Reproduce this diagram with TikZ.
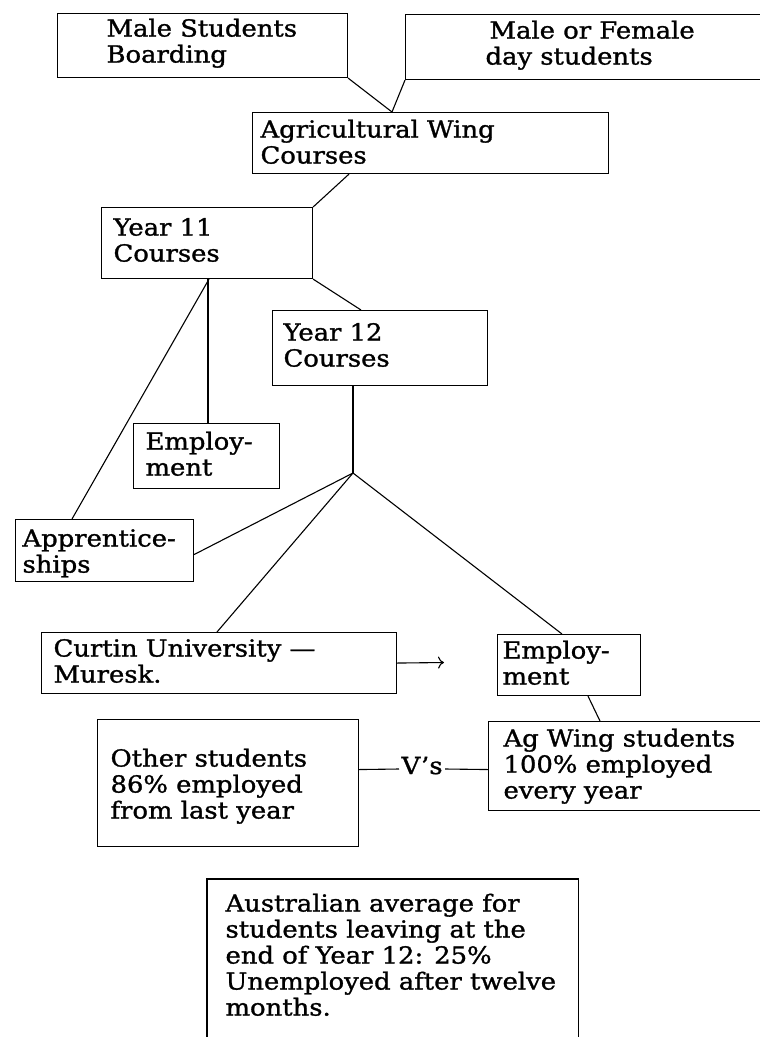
\documentclass[tikz,border=0pt]{standalone}
\usepackage{fontspec}
\setmainfont{DejaVu Serif}[FakeStretch=1.1, FakeBold=1.2]
\usetikzlibrary{arrows.meta}
\begin{document}
\begin{tikzpicture}[x=1pt,y=-1pt,
  line width=1.1pt,
  box/.style={draw, rectangle, inner sep=0pt, anchor=north west},
  txt/.style={anchor=north west, inner sep=0pt, align=left, font=\fontsize{23.5}{26}\selectfont},
  conn/.style={line width=1.1pt},
]
\useasboundingbox (0,0) rectangle (760,1037);

% boxes
\node[box, minimum width=290pt, minimum height=64pt] (msb) at (57,13) {};
\node[box, minimum width=370pt, minimum height=65pt] (mfd) at (405,14) {};
\node[box, minimum width=356pt, minimum height=61pt] (agw) at (252,112) {};
\node[box, minimum width=211pt, minimum height=71pt] (y11) at (101,207) {};
\node[box, minimum width=215pt, minimum height=75pt] (y12) at (272,310) {};
\node[box, minimum width=146pt, minimum height=65pt] (emp1) at (133,423) {};
\node[box, minimum width=178pt, minimum height=62pt] (app) at (15,519) {};
\node[box, minimum width=355pt, minimum height=61pt] (cur) at (41,632) {};
\node[box, minimum width=143pt, minimum height=61pt] (emp2) at (497,634) {};
\node[box, minimum width=290pt, minimum height=89pt] (ags) at (488,721) {};
\node[box, minimum width=261pt, minimum height=127pt] (oth) at (97,719) {};
\node[box, draw=none, minimum width=370pt, minimum height=162pt] (aus) at (207,879) {};
\draw (aus.south west) -- (aus.north west) -- (aus.north east) -- (aus.south east);

% texts
\node[txt] (t1) at (106,17.8) {\strut Male Students\\Boarding};
\node[txt] (t2) at (485,19.8) {\strut\hspace*{4pt}Male or Female\\day students};
\node[txt] (t3) at (260,118.8) {\strut Agricultural Wing\\Courses};
\node[txt] (t4) at (113,216.8) {\strut Year 11\\Courses};
\node[txt] (t5) at (283,321.8) {\strut Year 12\\Courses};
\node[txt] (t6) at (145,430.8) {\strut Employ-\\ment};
\node[txt] (t7) at (22,527.8) {\strut Apprentice-\\ships};
\node[txt] (t8) at (53,637.8) {\strut Curtin University —\\Muresk.};
\node[txt] (t9) at (502,639.8) {\strut Employ-\\ment};
\node[txt] (t10) at (503,727.8) {\strut Ag Wing students\\100\% employed\\every year};
\node[txt] (t11) at (110,747.8) {\strut Other students\\86\% employed\\from last year};
\node[txt] (t12) at (225,892.8) {\strut Australian average for\\students leaving at the\\end of Year 12: 25\%\\Unemployed after twelve\\months.};
\node[anchor=base west, inner sep=2pt, text height=12pt, text depth=2pt,
      font=\fontsize{23.5}{26}\selectfont] (vs) at (399,774) {V’s};

% connectors
\coordinate (J) at (353,473);
\coordinate (arrend) at (444,662.5);
\draw[conn] (msb.south east) -- ([xshift=140pt]agw.north west);
\draw[conn] (mfd.south west) -- ([xshift=140pt]agw.north west);
\draw[conn] ([xshift=97pt]agw.south west) -- (y11.north east);
\draw[conn] (y11.south east) -- ([xshift=89pt]y12.north west);
\draw[conn] ([xshift=107pt]y11.south west) -- ([xshift=75pt]emp1.north west);
\draw[conn] ([xshift=108pt]y11.south west) -- ([xshift=57pt]app.north west);
\draw[conn] ([xshift=81pt]y12.south west) -- (J);
\draw[conn] (J) -- ([yshift=-4pt]app.east);
\draw[conn] (J) -- ([xshift=176pt]cur.north west);
\draw[conn] (J) -- ([xshift=65pt]emp2.north west);
\draw[conn, -{To[length=6pt,width=12pt]}] (cur.east) -- (arrend);
\draw[conn] ([xshift=91pt]emp2.south west) -- ([xshift=112pt]ags.north west);
\draw[conn] ([yshift=13.5pt]oth.east) -- (vs.west);
\draw[conn] (vs.east) -- ([yshift=-3.5pt]ags.west);
\end{tikzpicture}
\end{document}
